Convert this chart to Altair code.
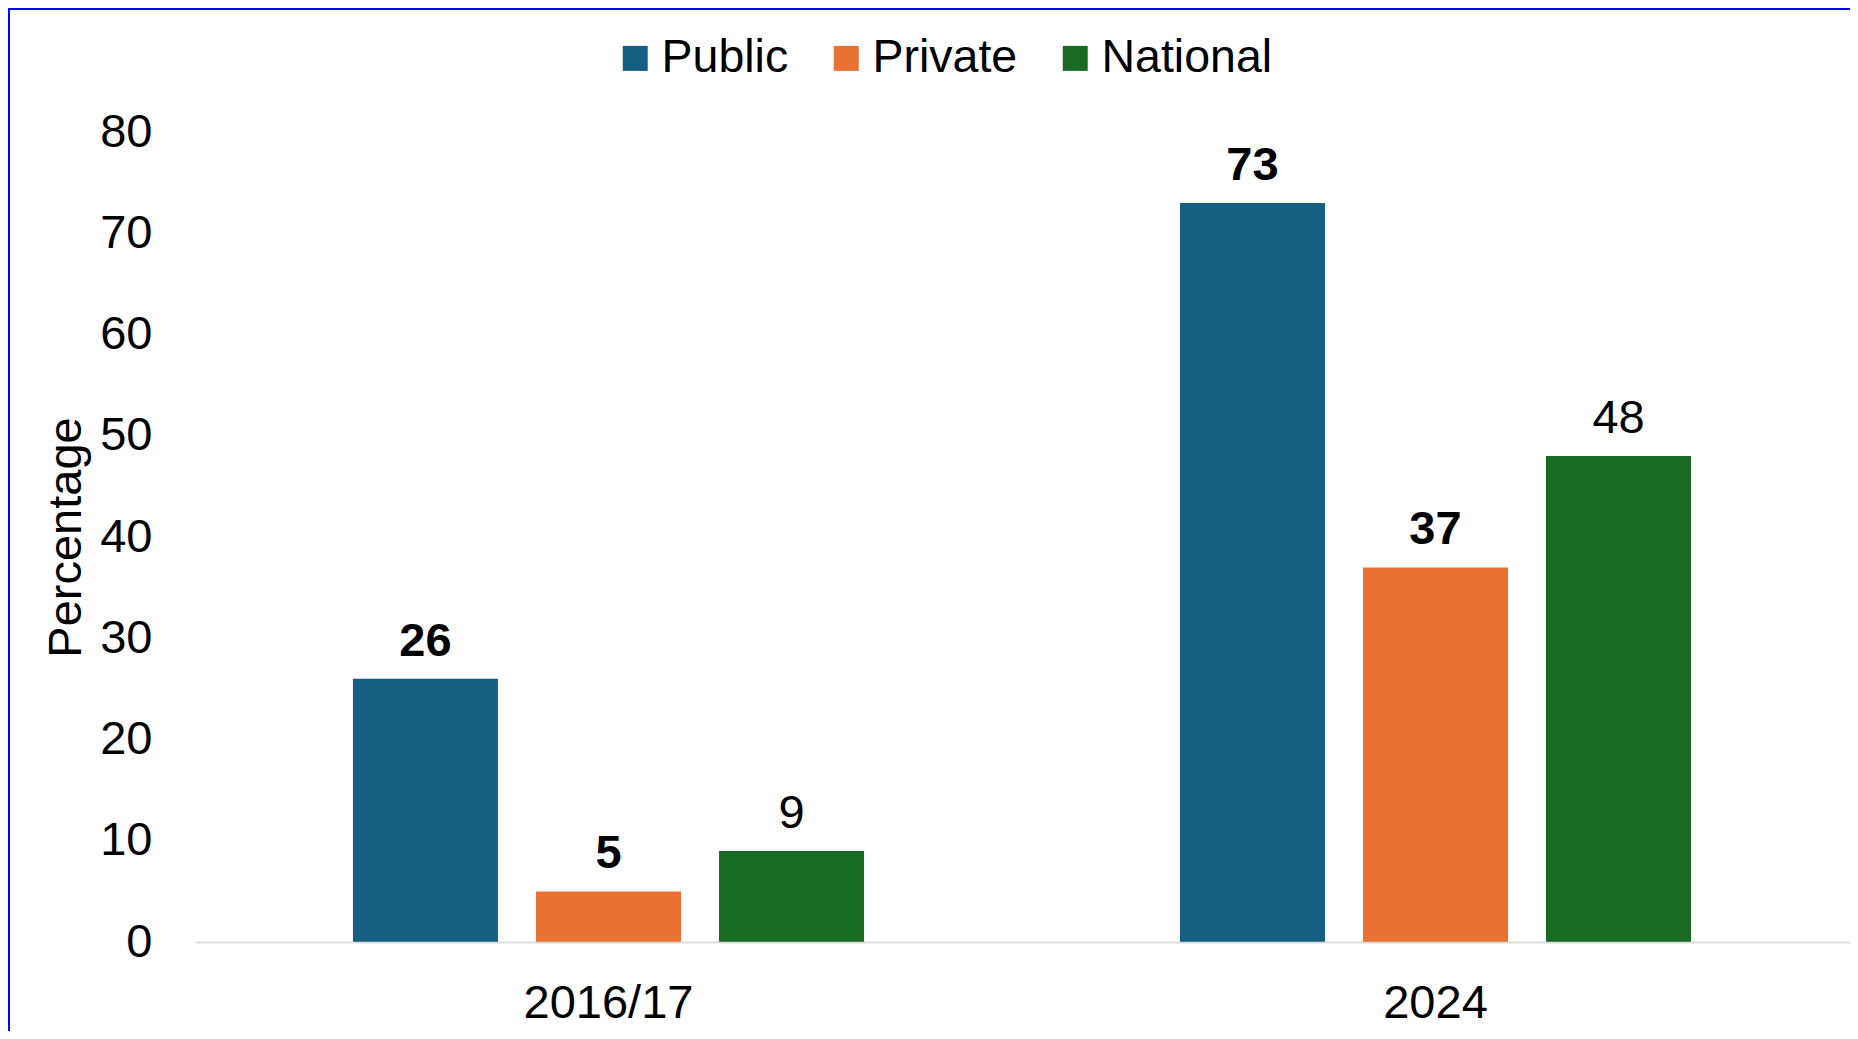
import altair as alt
import pandas as pd

periods = ["2016/17", "2024"]
sectors = ["Public", "Private", "National"]
values_2016 = [26, 5, 9]
values_2024 = [73, 37, 48]
bold_2016 = [True, True, False]
bold_2024 = [True, True, False]
colors = ["#156082", "#E97132", "#196B24"]
y_ticks = [0, 10, 20, 30, 40, 50, 60, 70, 80]

rows = []
for p, vals, bolds in zip(periods, [values_2016, values_2024], [bold_2016, bold_2024]):
    for s, v, b in zip(sectors, vals, bolds):
        rows.append({"period": p, "sector": s, "value": v, "bold": b})
df = pd.DataFrame(rows)

FONT = "Liberation Sans"
W, H = 1654, 810

x_enc = alt.X(
    "period:N",
    sort=periods,
    scale=alt.Scale(paddingInner=0.382, paddingOuter=0.191),
    axis=alt.Axis(
        title=None, labelAngle=0, labelFont=FONT, labelFontSize=47, labelColor="black",
        labelPadding=38, ticks=False, tickSize=0, domainColor="#C4C4C4",
        domainOpacity=0.6, domainWidth=2, zindex=1,
    ),
)
xoff_enc = alt.XOffset("sector:N", sort=sectors, scale=alt.Scale(paddingInner=0.2077, paddingOuter=0))
y_enc = alt.Y(
    "value:Q",
    scale=alt.Scale(domain=[0, 80], nice=False),
    axis=alt.Axis(
        values=y_ticks, title="Percentage", grid=False, domain=False, ticks=False, tickSize=0,
        labelPadding=43, labelFont=FONT, labelFontSize=47, labelColor="black",
        titleFont=FONT, titleFontSize=47, titleFontWeight="normal", titleColor="black",
        titleX=-115, titleY=405, titleAngle=270, titleBaseline="alphabetic", titleAlign="center",
    ),
)

bars = alt.Chart(df).mark_bar().encode(
    x=x_enc,
    xOffset=xoff_enc,
    y=y_enc,
    color=alt.Color(
        "sector:N",
        sort=sectors,
        scale=alt.Scale(domain=sectors, range=colors),
        legend=alt.Legend(
            title=None, orient="none", legendX=417, legendY=-97, direction="horizontal",
            symbolType="square", symbolSize=625, symbolStrokeWidth=0, symbolOpacity=1,
            labelFont=FONT, labelFontSize=46.5, labelColor="black", labelOffset=3,
            columnPadding=34, labelLimit=1000, padding=0,
        ),
    ),
)

text_bold = alt.Chart(df).transform_filter("datum.bold").mark_text(
    dy=-23, baseline="alphabetic", font=FONT, fontSize=47, fontWeight="bold", color="black"
).encode(x=x_enc, xOffset=xoff_enc, y=y_enc, text="value:Q")

text_norm = alt.Chart(df).transform_filter("!datum.bold").mark_text(
    dy=-23, baseline="alphabetic", font=FONT, fontSize=47, fontWeight="normal", color="black"
).encode(x=x_enc, xOffset=xoff_enc, y=y_enc, text="value:Q")

border = alt.Chart(pd.DataFrame({"a": [0]})).mark_rect(
    fill="transparent", stroke="#0000FF", strokeWidth=2
).encode(
    x=alt.value(-186), x2=alt.value(W + 300), y=alt.value(-123), y2=alt.value(H + 300)
)

chart = alt.layer(border, bars, text_bold, text_norm).properties(
    width=W,
    height=H,
    background="white",
    autosize=alt.AutoSizeParams(type="none"),
    padding={"left": 187, "top": 124, "right": 1, "bottom": 89},
).configure_view(stroke="transparent")

chart.save("out.html", embed_options={"renderer": "svg", "actions": False})
